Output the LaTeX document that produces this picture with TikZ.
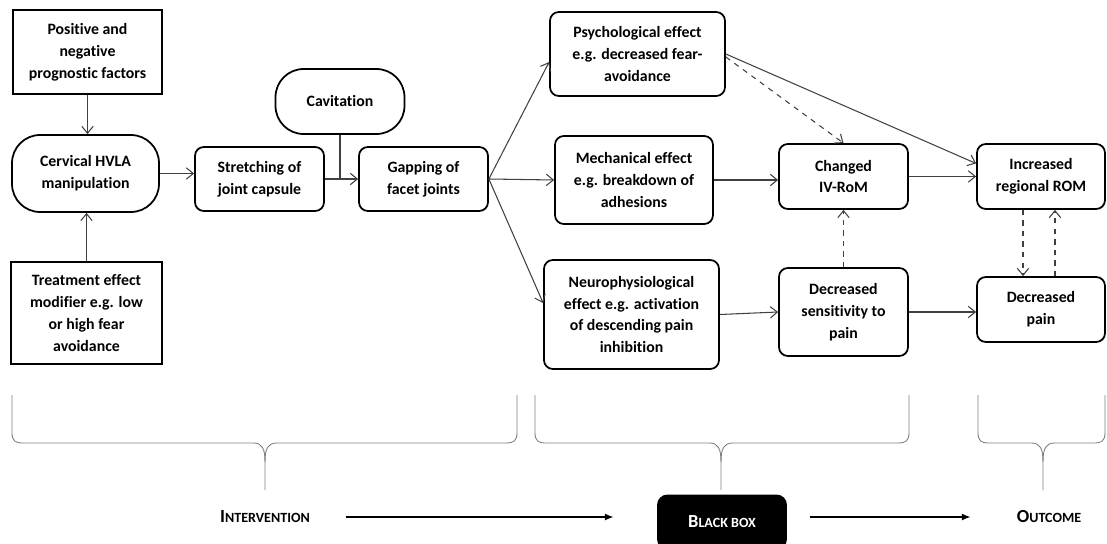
\documentclass[tikz,border=0pt]{standalone}
\usepackage{fontspec}
\setmainfont{Carlito}[Ligatures=NoCommon]
\usetikzlibrary{arrows.meta}

% fake small caps: first letter, rest
\newcommand{\smcap}[2]{{\fontsize{10.5}{12}\selectfont #1}{\fontsize{8}{10}\selectfont #2}}

% brace opening upwards: left x, tip x, right x
\newcommand{\bracedown}[3]{%
  \draw[brc] (#1,395) -- (#1,433) .. controls (#1,441) and (#1+4,443) .. (#1+10,443)
    -- (#2-12,443) .. controls (#2-3,443) and (#2,448) .. (#2,462) -- (#2,490);
  \draw[brc] (#3,395) -- (#3,433) .. controls (#3,441) and (#3-4,443) .. (#3-10,443)
    -- (#2+12,443) .. controls (#2+3,443) and (#2,448) .. (#2,462);
}

\begin{document}
\begin{tikzpicture}[x=0.02cm,y=-0.02cm,
  box/.style={draw, line width=1pt, rounded corners=5pt, align=center, inner sep=0pt,
    font=\fontsize{9}{12.5}\selectfont\bfseries},
  sqbox/.style={box, sharp corners},
  pill/.style={box, rounded corners=16pt},
  arr/.style={-{Straight Barb[length=4pt,width=6.5pt]}, draw=black!75, line width=0.6pt},
  darr/.style={arr, dashed},
  brc/.style={draw=black!50, line width=0.5pt},
  larr/.style={-{Latex[length=5pt,width=4pt]}, line width=0.8pt},
  lbl/.style={font=\bfseries}]

\useasboundingbox (0,0) rectangle (1107,544);

% intervention
\node[sqbox, minimum width=2.98cm, minimum height=1.68cm] (pos) at (87.5,52)
  {Positive and\\ negative\\ prognostic factors};
\node[pill, minimum width=2.94cm, minimum height=1.54cm] (hvla) at (85.5,173.5)
  {Cervical HVLA\\ manipulation};
\node[sqbox, minimum width=3.02cm, minimum height=2.04cm] (treat) at (86.5,313)
  {Treatment effect\\ modifier e.g. low\\ or high fear\\ avoidance};
\node[box, minimum width=2.58cm, minimum height=1.28cm] (stretch) at (259.5,179)
  {Stretching of\\ joint capsule};
\node[pill, minimum width=2.58cm, minimum height=1.30cm] (cav) at (340,101.5)
  {Cavitation};
\node[box, minimum width=2.58cm, minimum height=1.28cm] (gap) at (423.5,179)
  {Gapping of\\ facet joints};

% black box
\node[box, minimum width=3.5cm, minimum height=1.68cm] (psych) at (637.5,54)
  {Psychological effect\\ e.g. decreased fear-\\ avoidance};
\node[box, minimum width=3.16cm, minimum height=1.76cm] (mech) at (634,180)
  {Mechanical effect\\ e.g. breakdown of\\ adhesions};
\node[box, minimum width=3.5cm, minimum height=2.18cm] (neuro) at (631.5,314.5)
  {Neurophysiological\\ effect e.g. activation\\ of descending pain\\ inhibition};
\node[box, minimum width=2.58cm, minimum height=1.30cm] (chg) at (843.5,176.5)
  {Changed\\ IV-RoM};
\node[box, minimum width=2.58cm, minimum height=1.76cm] (dsens) at (843.5,312)
  {Decreased\\ sensitivity to\\ pain};

% outcome
\node[box, minimum width=2.56cm, minimum height=1.30cm] (incr) at (1041,176.5)
  {Increased\\ regional ROM};
\node[box, minimum width=2.56cm, minimum height=1.30cm] (dpain) at (1041,309.5)
  {Decreased\\ pain};

% connectors
\draw[arr] (pos.south) -- (pos.south |- hvla.north);
\draw[arr] (treat.north) -- (treat.north |- hvla.south);
\draw[arr] (hvla.east) -- (hvla.east -| stretch.west);
\draw[arr] (stretch) -- (gap);
\coordinate (join) at (cav.south |- stretch.east);
\draw[draw=black!75, line width=0.6pt] (cav.south) -- (join);

\draw[arr] (gap.east) -- ([yshift=-0.16cm]psych.west);
\draw[arr] (gap.east) -- (mech.west);
\draw[arr] (gap.east) -- ([yshift=0.23cm]neuro.west);

\draw[arr] (mech.east) -- (mech.east -| chg.west);
\draw[arr] (neuro.east) -- (dsens.west);
\draw[arr] (chg) -- (incr);
\draw[arr] (dsens.east) -- (dsens.east -| dpain.west);
\draw[arr] (psych.east) -- ([yshift=0.26cm]incr.west);
\draw[darr] ([yshift=-0.06cm]psych.east) -- (chg.north);
\draw[darr] (dsens.north) -- (chg.south);
\draw[darr] ([xshift=-0.36cm]incr.south) -- ([xshift=-0.36cm]dpain.north);
\draw[darr] ([xshift=0.28cm]dpain.north) -- ([xshift=0.28cm]incr.south);

% braces
\bracedown{12}{265}{517}
\bracedown{535}{721}{909}
\bracedown{978}{1043}{1105}

% bottom labels
\node[lbl] (intv) at (265,517) {\smcap{I}{NTERVENTION}};
\node[fill=black, rounded corners=6pt, minimum width=2.6cm, minimum height=1.1cm,
  lbl, text=white] (bbox) at (722,522) {\smcap{B}{LACK BOX}};
\node[lbl] (outc) at (1049,517) {\smcap{O}{UTCOME}};

\draw[larr, shorten <=0.6cm, shorten >=0.86cm] (intv.east) -- (intv.east -| bbox.west);
\draw[larr, shorten <=0.45cm, shorten >=0.8cm] (bbox.east |- intv.east) -- (outc.west);

\end{tikzpicture}
\end{document}
